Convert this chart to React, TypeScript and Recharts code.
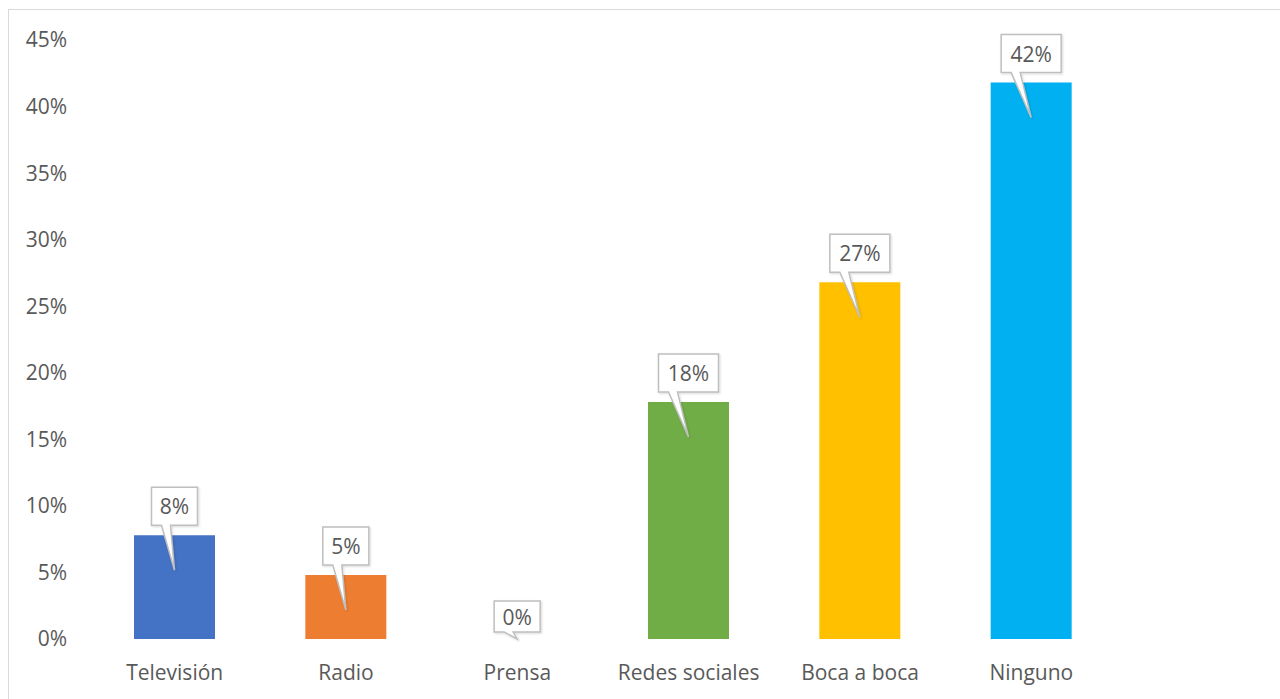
import { BarChart, Bar, XAxis, YAxis, Cell, LabelList } from 'recharts';

const categories = ['Televisión', 'Radio', 'Prensa', 'Redes sociales', 'Boca a boca', 'Ninguno'];
const values = [7.8, 4.8, 0, 17.8, 26.8, 41.8];
const colors = ['#4472C4', '#ED7D31', '#A5A5A5', '#70AD47', '#FFC000', '#00B0F0'];
const yTicks = [0, 5, 10, 15, 20, 25, 30, 35, 40, 45];

const data = categories.map((name, i) => ({ name, value: values[i] }));

const FONT = '"Open Sans", sans-serif';
const TEXT = '#595959';

const Callout = (props: any) => {
  const { x, y, width, height, value } = props;
  const cx = x + width / 2;
  const label = `${Math.round(value)}%`;
  const boxW = label.length > 2 ? 60 : 46;
  const isZero = value === 0;
  const base = y + height;
  const boxH = isZero ? 31 : 38;
  const bottom = isZero ? base - 7 : y - 10;
  const top = bottom - boxH;
  const left = cx - boxW / 2;
  const right = cx + boxW / 2;
  const tipY = isZero ? base : y + 35;
  const baseL = left + 10;
  const baseR = left + 19;
  const d = `M${left},${top} L${right},${top} L${right},${bottom} L${baseR},${bottom} L${cx},${tipY} L${baseL},${bottom} L${left},${bottom} Z`;
  return (
    <g>
      <path d={d} fill="#fff" stroke="#BFBFBF" strokeWidth={1.5} filter="url(#calloutShadow)" />
      <text
        x={(left + right) / 2}
        y={(top + bottom) / 2}
        textAnchor="middle"
        dominantBaseline="central"
        fontSize={21}
        fontFamily={FONT}
        fill={TEXT}
      >
        {label}
      </text>
    </g>
  );
};

export default function App() {
  return (
    <div style={{ position: 'fixed', inset: 0, overflow: 'hidden', background: '#fff' }}>
      <div
        style={{
          position: 'absolute',
          left: 8,
          top: 9,
          width: 1300,
          height: 720,
          border: '1px solid #D9D9D9',
          background: '#fff',
        }}
      >
        <BarChart
          width={1272}
          height={690}
          data={data}
          margin={{ top: 30, right: 164, bottom: 0, left: 10 }}
        >
          <defs>
            <filter id="calloutShadow" x="-20%" y="-20%" width="140%" height="140%">
              <feDropShadow dx="1" dy="1" stdDeviation="1" floodColor="#000" floodOpacity="0.15" />
            </filter>
          </defs>
          <XAxis
            dataKey="name"
            axisLine={false}
            tickLine={false}
            tickSize={0}
            tickMargin={26}
            height={61}
            interval={0}
            tick={{ fontSize: 21, fontFamily: FONT, fill: TEXT }}
          />
          <YAxis
            domain={[0, 45]}
            ticks={yTicks}
            tickFormatter={(v) => `${v}%`}
            axisLine={false}
            tickLine={false}
            tickSize={0}
            tickMargin={22}
            width={70}
            tick={{ fontSize: 21, fontFamily: FONT, fill: TEXT }}
          />
          <Bar dataKey="value" barSize={81} minPointSize={1} isAnimationActive={false}>
            {data.map((d, i) => (
              <Cell key={d.name} fill={colors[i]} fillOpacity={d.value === 0 ? 0 : 1} />
            ))}
            <LabelList dataKey="value" content={<Callout />} />
          </Bar>
        </BarChart>
      </div>
    </div>
  );
}
